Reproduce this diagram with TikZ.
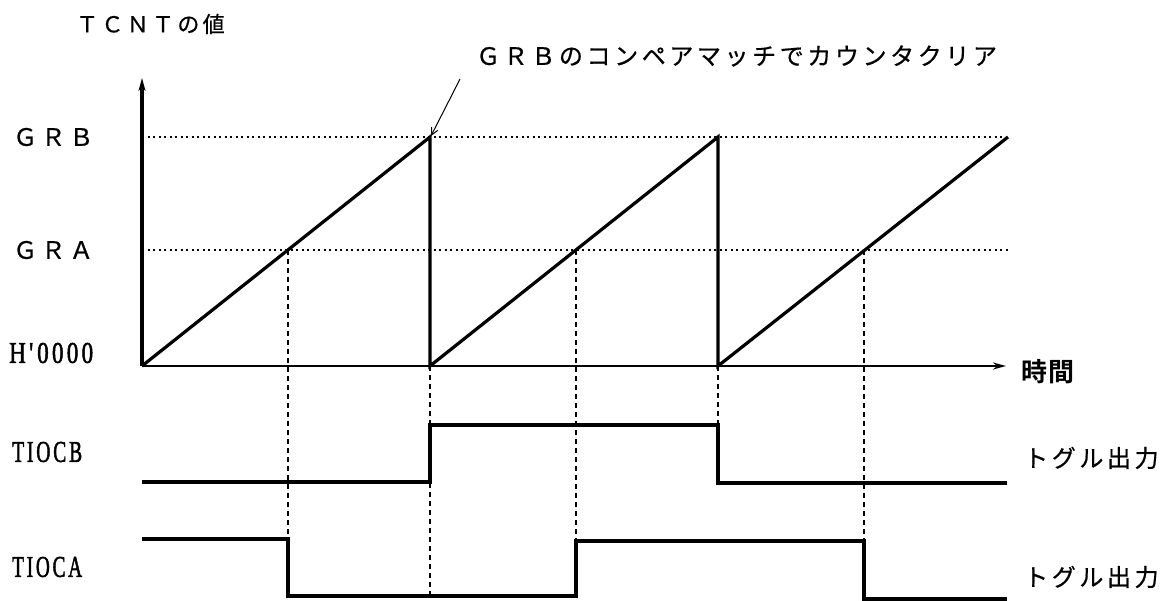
\documentclass[tikz,border=0pt]{standalone}
\usepackage{fontspec}
\setmainfont{Liberation Serif}
\newfontfamily\jpa[LetterSpace=15,FakeBold=0.6]{Noto Sans CJK JP}
\newfontfamily\jpb[LetterSpace=15,FakeBold=0.6]{Noto Sans CJK JP}
\newfontfamily\jpc[LetterSpace=17,FakeBold=0.6]{Noto Sans CJK JP}
\newfontfamily\jpd[LetterSpace=15,FakeBold=0.6]{Noto Sans CJK JP}
\newfontfamily\jpbold[LetterSpace=6]{Noto Sans CJK JP Bold}
\newfontfamily\sigfont[LetterSpace=14,FakeBold=2]{Liberation Serif}
\usetikzlibrary{arrows.meta}
\tikzset{
  sig/.style={line width=3.2pt, line join=miter},
  guide/.style={line width=1.3pt, dash pattern=on 2pt off 3.5pt},
  vdash/.style={line width=1.3pt, dash pattern=on 5pt off 4pt},
  lbl/.style={inner sep=0pt, anchor=west},
  sigtxt/.style={lbl, font=\sigfont},
}
\begin{document}
\begin{tikzpicture}[x=1pt,y=-1pt]
\useasboundingbox (0,0) rectangle (1169,601);
% coordinates
\coordinate (O) at (142,366);
\coordinate (Ytop) at (142,78);
\coordinate (Xend) at (1006,366);
\coordinate (B1) at (430,137);
\coordinate (B1b) at (430,366);
\coordinate (B2) at (718,137);
\coordinate (B2b) at (718,366);
\coordinate (B3) at (1008,137);
\coordinate (GRBs) at (142,137);
\coordinate (GRBe) at (1005,137);
\coordinate (GRAs) at (142,250);
\coordinate (GRAe) at (1008,250);
\coordinate (A1) at (288,250);
\coordinate (A2) at (576,250);
\coordinate (A3) at (864,250);
\coordinate (Lstart) at (460,79);
\coordinate (Lend) at (431,136);

% guide lines
\draw[guide] (GRBs) -- (GRBe);
\draw[guide] (GRAs) -- (GRAe);
\draw[vdash] (A1) -- (288,539);
\draw[vdash] (B1b) -- (430,596);
\draw[vdash] (A2) -- (576,596);
\draw[vdash] (B2b) -- (718,425);
\draw[vdash] (A3) -- (864,542);

% axes
\draw[sig, -{Stealth[length=13pt,width=7pt]}] (O) -- (Ytop);
\draw[line width=2.8pt, -{Stealth[length=13pt,width=7pt]}] (O) -- (Xend);

% counter ramps
\draw[sig] (O) -- (B1) -- (B1b) -- (B2) -- (B2b) -- (B3);

% signals
\draw[sig] (142,482) -- (430,482) -- (430,425) -- (718,425) -- (718,483) -- (1007,483);
\draw[sig] (142,539) -- (288,539) -- (288,596) -- (576,596) -- (576,541) -- (864,541) -- (864,599) -- (1007,599);

% leader
\draw[line width=1pt, -{Straight Barb[length=7pt,width=7pt]}] (Lstart) -- (Lend);

% labels
\node[lbl, font=\jpb\fontsize{22}{26}\selectfont] (tcnt) at (76,24) {ＴＣＮＴの値};
\node[lbl, font=\jpa\fontsize{24}{28}\selectfont] (note) at (476,56) {ＧＲＢのコンペアマッチでカウンタクリア};
\node[lbl, font=\jpc\fontsize{24}{28}\selectfont] (grb) at (13,137) {ＧＲＢ};
\node[lbl, font=\jpc\fontsize{24}{28}\selectfont] (gra) at (13,250) {ＧＲＡ};
\node[sigtxt] (h0) at (9,353) {\resizebox{84pt}{20pt}{H'\,0000}};
\node[sigtxt] (tb) at (12,452) {\resizebox{70pt}{20pt}{TIOCB}};
\node[sigtxt] (ta) at (12,567) {\resizebox{70pt}{20pt}{TIOCA}};
\node[lbl, font=\jpbold\fontsize{26}{30}\selectfont] (time) at (1021,372) {時間};
\node[lbl, font=\jpd\fontsize{24}{28}\selectfont] (tg1) at (1024,458) {トグル出力};
\node[lbl, font=\jpd\fontsize{24}{28}\selectfont] (tg2) at (1024,577) {トグル出力};
\end{tikzpicture}
\end{document}
